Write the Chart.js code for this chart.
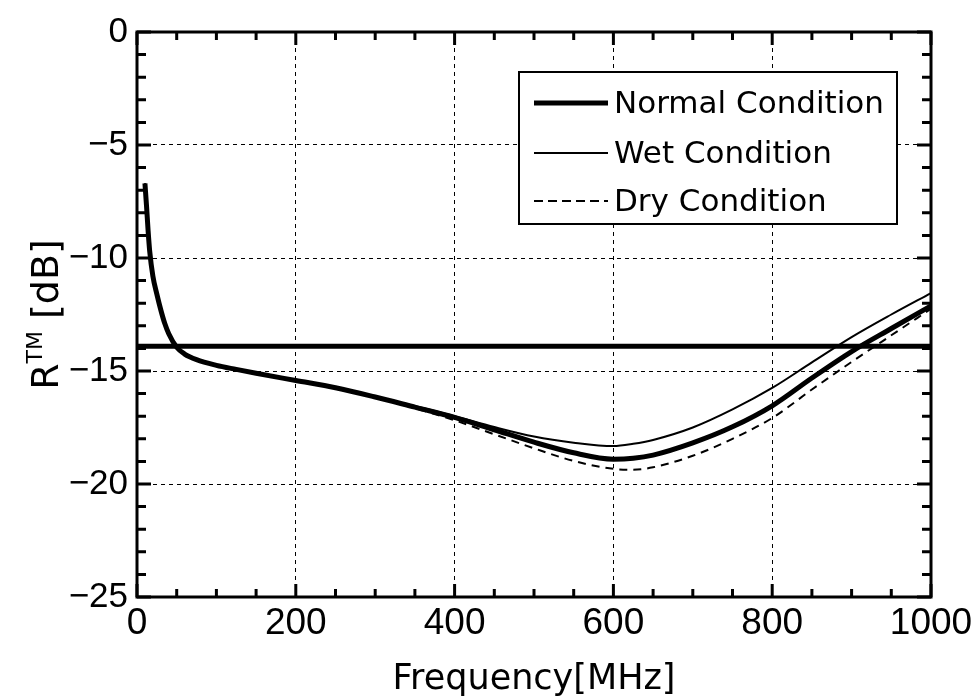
<!DOCTYPE html>
<html><head><meta charset="utf-8">
<script src="https://cdn.jsdelivr.net/npm/chart.js@4.4.1/dist/chart.umd.min.js"></script>
<style>html,body{margin:0;padding:0;background:#fff}#wrap{width:978px;height:700px}</style>
</head><body><div id="wrap"><canvas id="c" width="978" height="700"></canvas></div>
<script>
// ---- data ----
const frequencyMHz = [10, 12, 14, 16, 20, 25, 30, 35, 40, 50, 60, 75, 100, 125, 150, 200, 250, 300, 350, 400, 450, 500, 550, 600, 625, 650, 700, 750, 800, 850, 900, 950, 1000];
const normalDB = [-6.7, -7.7, -8.8, -9.7, -10.8, -11.6, -12.3, -12.9, -13.35, -13.95, -14.25, -14.5, -14.75, -14.93, -15.1, -15.42, -15.74, -16.15, -16.6, -17.05, -17.6, -18.15, -18.62, -18.9, -18.86, -18.72, -18.18, -17.47, -16.54, -15.31, -14.14, -13.12, -12.12];
const wetDB = [-6.7, -7.7, -8.8, -9.7, -10.8, -11.6, -12.3, -12.9, -13.35, -13.95, -14.25, -14.5, -14.75, -14.93, -15.1, -15.42, -15.74, -16.15, -16.55, -17.0, -17.48, -17.9, -18.17, -18.32, -18.22, -18.05, -17.5, -16.7, -15.75, -14.62, -13.5, -12.5, -11.55];
const dryDB = [-6.7, -7.7, -8.8, -9.7, -10.8, -11.6, -12.3, -12.9, -13.35, -13.95, -14.25, -14.5, -14.75, -14.93, -15.1, -15.42, -15.74, -16.15, -16.65, -17.18, -17.8, -18.42, -18.98, -19.33, -19.37, -19.26, -18.75, -18.0, -17.08, -15.82, -14.6, -13.42, -12.25];
const thresholdFreq = [0, 1000];
const thresholdDB = [-13.9, -13.9];
const xTickValues = [0, 200, 400, 600, 800, 1000];
const yTickValues = [0, -5, -10, -15, -20, -25];
const seriesLabels = ['Normal Condition', 'Wet Condition', 'Dry Condition'];
const xTitle = 'Frequency[MHz]';
const yTitleMain = 'R', yTitleSup = 'TM', yTitleUnit = ' [dB]';

const pts = (xs, ys) => xs.map((x, i) => ({x, y: ys[i]}));
const TICK_FONT = 'Liberation Sans, Arial, sans-serif';
const TEXT_FONT = 'DejaVu Sans, sans-serif';

const styles = [
  {w: 5, dash: []},
  {w: 2, dash: []},
  {w: 2, dash: [8, 6]}
];

const framePlugin = {
  id: 'frame',
  afterDatasetsDraw(chart) {
    const {ctx, chartArea: a, scales: {x, y}} = chart;
    ctx.save();
    ctx.strokeStyle = '#000';
    ctx.lineWidth = 3;
    ctx.setLineDash([]);
    for (let v = 0; v <= 1000; v += 50) {
      const px = x.getPixelForValue(v);
      const len = (v % 200 === 0) ? 13 : 8;
      ctx.beginPath();
      ctx.moveTo(px, a.top); ctx.lineTo(px, a.top + len);
      ctx.moveTo(px, a.bottom); ctx.lineTo(px, a.bottom - len);
      ctx.stroke();
    }
    for (let v = -25; v <= 0; v += 1) {
      const py = y.getPixelForValue(v);
      const len = (v % 5 === 0) ? 14 : 9;
      ctx.beginPath();
      ctx.moveTo(a.left, py); ctx.lineTo(a.left + len, py);
      ctx.moveTo(a.right, py); ctx.lineTo(a.right - len, py);
      ctx.stroke();
    }
    ctx.lineWidth = 3;
    ctx.strokeRect(a.left, a.top, a.right - a.left, a.bottom - a.top);

    // legend box
    const lx = 519, ly = 72, lw = 378, lh = 152;
    ctx.fillStyle = '#fff';
    ctx.fillRect(lx, ly, lw, lh);
    ctx.lineWidth = 2;
    ctx.strokeRect(lx, ly, lw, lh);
    const rows = [103, 153, 201];
    ctx.font = '31px ' + TEXT_FONT;
    ctx.textBaseline = 'middle';
    ctx.textAlign = 'left';
    ctx.fillStyle = '#000';
    seriesLabels.forEach((lab, i) => {
      ctx.lineWidth = styles[i].w;
      ctx.setLineDash(i === 2 ? [9, 5] : []);
      ctx.beginPath();
      ctx.moveTo(534, rows[i]); ctx.lineTo(608, rows[i]);
      ctx.stroke();
      ctx.setLineDash([]);
      ctx.fillText(lab, 614, rows[i] + 2);
    });

    // axis titles
    ctx.font = '35px ' + TEXT_FONT;
    ctx.textAlign = 'center';
    ctx.textBaseline = 'alphabetic';
    ctx.fillText(xTitle, (a.left + a.right) / 2, 689);

    ctx.translate(58, (a.top + a.bottom) / 2);
    ctx.rotate(-Math.PI / 2);
    ctx.font = '38px ' + TEXT_FONT;
    const wR = ctx.measureText(yTitleMain).width;
    const wU = ctx.measureText(yTitleUnit).width;
    ctx.font = '22px ' + TEXT_FONT;
    const wS = ctx.measureText(yTitleSup).width;
    let sx = -(wR + wS + wU) / 2;
    ctx.textAlign = 'left';
    ctx.font = '38px ' + TEXT_FONT;
    ctx.fillText(yTitleMain, sx, 0);
    ctx.font = '22px ' + TEXT_FONT;
    ctx.fillText(yTitleSup, sx + wR, -16);
    ctx.font = '38px ' + TEXT_FONT;
    ctx.fillText(yTitleUnit, sx + wR + wS, 0);
    ctx.restore();
  }
};

new Chart(document.getElementById('c'), {
  type: 'line',
  data: {
    datasets: [
      {label: 'threshold', data: pts(thresholdFreq, thresholdDB), borderColor: '#000', borderWidth: 5, pointRadius: 0, tension: 0},
      {label: seriesLabels[0], data: pts(frequencyMHz, normalDB), borderColor: '#000', borderWidth: 5, pointRadius: 0, cubicInterpolationMode: 'monotone'},
      {label: seriesLabels[1], data: pts(frequencyMHz, wetDB), borderColor: '#000', borderWidth: 2, pointRadius: 0, cubicInterpolationMode: 'monotone'},
      {label: seriesLabels[2], data: pts(frequencyMHz, dryDB), borderColor: '#000', borderWidth: 2, borderDash: [8, 6], pointRadius: 0, cubicInterpolationMode: 'monotone'}
    ]
  },
  options: {
    responsive: false,
    animation: false,
    layout: {padding: {top: 32, right: 47, left: 0, bottom: 0}},
    plugins: {legend: {display: false}, tooltip: {enabled: false}},
    scales: {
      x: {
        type: 'linear', min: 0, max: 1000,
        afterBuildTicks: s => { s.ticks = xTickValues.map(v => ({value: v})); },
        afterFit: s => { s.height = 103; },
        ticks: {color: '#000', font: {family: TICK_FONT, size: 37}, padding: 5, maxRotation: 0, autoSkip: false,
          callback: v => String(v)},
        grid: {color: '#000', lineWidth: 1, drawTicks: false},
        border: {display: false, dash: [4, 4]}
      },
      y: {
        type: 'linear', min: -25, max: 0,
        afterBuildTicks: s => { s.ticks = yTickValues.map(v => ({value: v})); },
        afterFit: s => { s.width = 137; },
        ticks: {color: '#000', font: {family: TICK_FONT, size: 35}, padding: 9,
          callback: v => String(v).replace('-', '\u2212')},
        grid: {color: '#000', lineWidth: 1, drawTicks: false},
        border: {display: false, dash: [4, 4]}
      }
    }
  },
  plugins: [framePlugin]
});
</script>
</body></html>
